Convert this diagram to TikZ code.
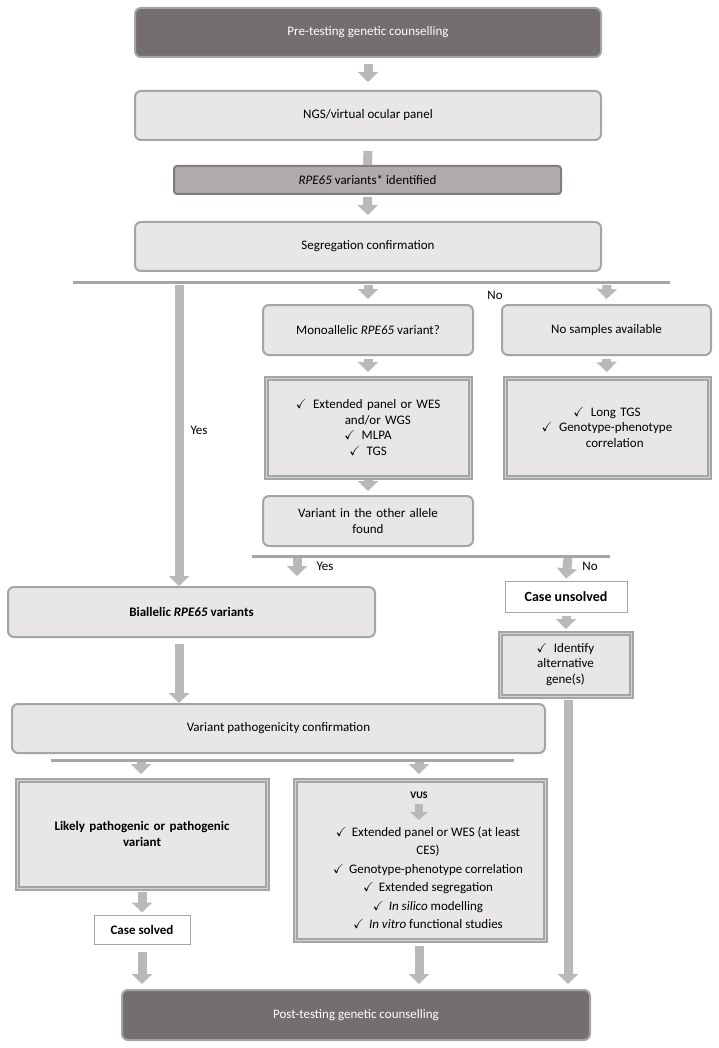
\documentclass[tikz,border=0pt]{standalone}
\usepackage{amssymb}
\usepackage{fontspec}
\setmainfont{Carlito}
\usetikzlibrary{arrows.meta,positioning}

\definecolor{darkbox}{RGB}{117,110,110}
\definecolor{lightbox}{RGB}{232,230,230}
\definecolor{midbox}{RGB}{176,170,170}
\definecolor{arrowgray}{RGB}{185,185,185}
\definecolor{edgegray}{RGB}{165,165,165}

\tikzset{
  base/.style={inner sep=2pt, align=center, font=\fontsize{13}{15.5}\selectfont, line width=2pt},
  dark/.style={base, rounded corners=6pt, fill=darkbox, draw=edgegray, text=white},
  light/.style={base, rounded corners=6pt, fill=lightbox, draw=edgegray},
  rpe/.style={base, rounded corners=3pt, fill=midbox, draw=darkbox!90},
  square/.style={base, fill=lightbox, draw=edgegray, double=lightbox!70!edgegray, double distance=1pt},
  plain/.style={base, fill=white, draw=edgegray, line width=1pt},
  blk/.style={draw=arrowgray, line width=9pt, -{Triangle[width=20pt,length=10pt]}},
  sep/.style={draw=edgegray, line width=3pt},
}

\begin{document}
\begin{tikzpicture}[x=1pt, y=-1pt]
  \useasboundingbox (0,0) rectangle (719,1048);

  % top chain
  \node (pre) [dark, minimum width=466pt, minimum height=49pt] at (368,32.5) {Pre-testing genetic counselling};
  \node (ngs) [light, minimum width=466pt, minimum height=49pt] at (368,115.5) {NGS/virtual ocular panel};
  \node (rpe) [rpe, minimum width=387pt, minimum height=28pt] at (367.5,180) {\textit{RPE65} variants* identified};
  \node (seg) [light, minimum width=466pt, minimum height=49pt] at (368,246.5) {Segregation confirmation};

  \draw[blk] ([yshift=-6pt]pre.south) -- ([yshift=8pt]ngs.north);
  \draw[blk, -] ([yshift=-10pt]ngs.south) -- (rpe.north);
  \draw[blk] ([yshift=-2pt]rpe.south) -- ([yshift=6pt]seg.north);

  % first split
  \draw[sep] (73,283) coordinate (sepA) -- (670,283) coordinate (sepB);
  \coordinate (yes1) at (179,285);
  \coordinate (mid1) at (368,285);
  \coordinate (no1) at (607,285);
  \node (no1lbl) at (495,295) {\fontsize{13}{15}\selectfont No};

  \node (mono) [light, minimum width=210pt, minimum height=50pt] at (368,330) {Monoallelic \textit{RPE65} variant?};
  \node (nosmp) [light, minimum width=209pt, minimum height=50pt] at (606.5,330) {No samples available};
  \draw[blk] (mid1) -- ([yshift=5pt]mono.north);
  \draw[blk] (no1) -- ([yshift=5pt]nosmp.north);

  \node (ext) [square, minimum width=204pt, minimum height=99pt, text width=190pt] at (368,427.5)
    {$\checkmark$\, Extended panel or WES\\ \hspace*{1.5em}and/or WGS\\ $\checkmark$\, MLPA\\ $\checkmark$\, TGS};
  \node (longtgs) [square, minimum width=204pt, minimum height=99pt, text width=190pt] at (607,427.5)
    {$\checkmark$\, Long TGS\\ $\checkmark$\, Genotype-phenotype\\ \hspace*{1.2em}correlation};
  \draw[blk] ([yshift=-3pt]mono.south) -- ([yshift=5pt]ext.north);
  \draw[blk] ([yshift=-3pt]nosmp.south) -- ([yshift=5pt]longtgs.north);

  \node (other) [light, minimum width=210pt, minimum height=50pt, text width=200pt] at (368,521)
    {Variant in the other allele\\ found};
  \draw[blk] ([yshift=-2pt]ext.south) -- ([yshift=4pt]other.north);

  % second split
  \draw[sep] (252,556) coordinate (sepC) -- (610,556) coordinate (sepD);
  \coordinate (yes2) at (297,558);
  \coordinate (no2) at (568,558);
  \node (yes2lbl) at (325,566) {\fontsize{13}{15}\selectfont Yes};
  \node (no2lbl) at (590,566) {\fontsize{13}{15}\selectfont No};

  \node (bial) [light, minimum width=367pt, minimum height=50pt] at (191.5,612) {\textbf{Biallelic \textit{RPE65} variants}};
  \node (unsolved) [plain, minimum width=122pt, minimum height=31pt] at (566,596.5) {\fontsize{14}{16}\selectfont\textbf{Case unsolved}};
  \node (ident) [square, minimum width=131pt, minimum height=63pt, text width=120pt] at (565.5,664.5)
    {$\checkmark$\, Identify\\ alternative\\ gene(s)};

  \draw[blk] (yes1) -- (yes1 |- bial.north);
  \node (yes1lbl) at (199,430) {\fontsize{13}{15}\selectfont Yes};
  \draw[blk] (yes2) -- ([yshift=10pt]yes2 |- bial.north);
  \draw[blk] (no2) -- ([yshift=2pt]unsolved.north);
  \draw[blk] ([yshift=-3pt]unsolved.south) -- ([yshift=3pt]ident.north -| unsolved.south);

  % pathogenicity
  \node (path) [light, minimum width=533pt, minimum height=49pt] at (278.5,728.5) {Variant pathogenicity confirmation};
  \draw[blk] ([yshift=-6pt]bial.south -| yes1) -- (yes1 |- path.north);

  \draw[sep] (51,760) coordinate (sepE) -- (514,760) coordinate (sepF);
  \coordinate (lp) at (141,762);
  \coordinate (vu) at (419,762);

  \node (likely) [square, minimum width=250pt, minimum height=108pt, text width=230pt] at (142,834)
    {\textbf{Likely pathogenic or pathogenic}\\ \textbf{variant}\\[3em]};
  \node (vus) [square, minimum width=250pt, minimum height=160pt] at (420,860) {};
  \node (vustitle) at (419,795) {\textbf{VUS}};
  \node (vuslist) [align=center, font=\fontsize{13}{18.5}\selectfont] at (428,878)
    {$\checkmark$\, Extended panel or WES (at least\\ CES)\\ $\checkmark$\, Genotype-phenotype correlation\\
     $\checkmark$\, Extended segregation\\ $\checkmark$\, \textit{In silico} modelling\\
     $\checkmark$\, \textit{In vitro} functional studies};
  \draw[blk, line width=8pt, -{Triangle[width=18pt,length=8pt]}] ([yshift=-2pt]vustitle.south) -- ++(0,16);
  \draw[blk] (lp) -- ([yshift=5pt]likely.north -| lp);
  \draw[blk] (vu) -- ([yshift=5pt]vus.north -| vu);

  \node (solved) [plain, minimum width=96pt, minimum height=29pt] at (142,929.5) {\textbf{Case solved}};
  \draw[blk] ([yshift=-3pt]likely.south) -- ([yshift=2pt]solved.north);

  % bottom
  \node (post) [dark, minimum width=468pt, minimum height=50pt] at (356,1015) {Post-testing genetic counselling};
  \draw[blk] ([yshift=-7pt]solved.south) -- ([yshift=5pt]post.north -| solved.south);
  \draw[blk] ([yshift=-5pt]vus.south -| vu) -- ([yshift=5pt]post.north -| vu);
  \draw[blk] ([yshift=-3pt]ident.south -| no2) -- ([yshift=5pt]post.north -| no2);
\end{tikzpicture}
\end{document}
